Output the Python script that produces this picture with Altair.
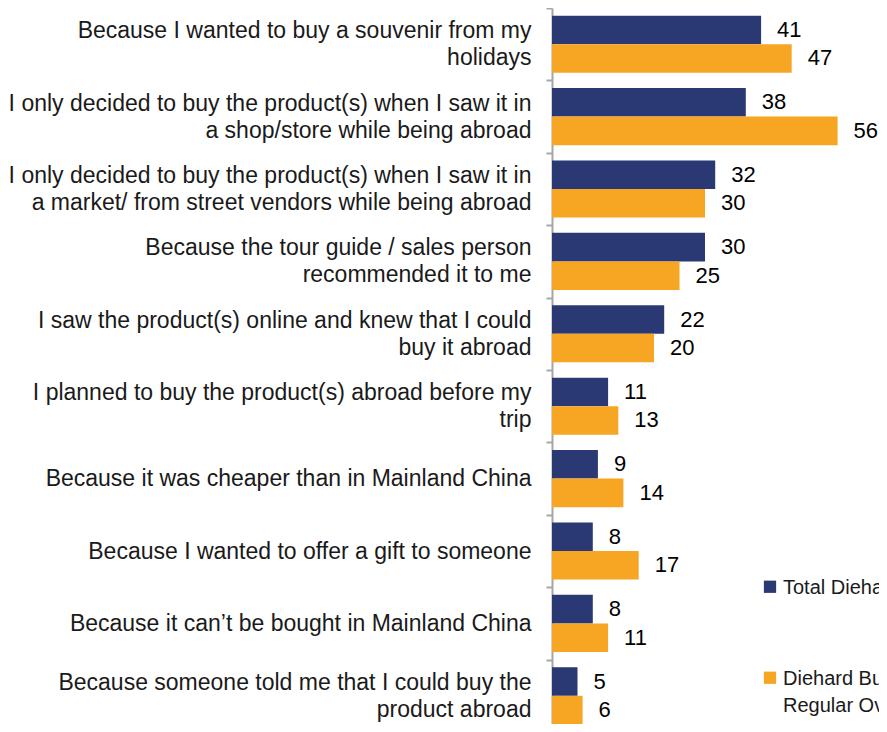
import altair as alt
import pandas as pd

categories = [
    "Because I wanted to buy a souvenir from my|holidays",
    "I only decided to buy the product(s) when I saw it in|a shop/store while being abroad",
    "I only decided to buy the product(s) when I saw it in|a market/ from street vendors while being abroad",
    "Because the tour guide / sales person|recommended it to me",
    "I saw the product(s) online and knew that I could|buy it abroad",
    "I planned to buy the product(s) abroad before my|trip",
    "Because it was cheaper than in Mainland China",
    "Because I wanted to offer a gift to someone",
    "Because it can\u2019t be bought in Mainland China",
    "Because someone told me that I could buy the|product abroad",
]
series = ["Total Diehard Buyers", "Diehard Buyers \u2013|Regular Overseas Travellers"]
total = [41, 38, 32, 30, 22, 11, 9, 8, 8, 5]
regular = [47, 56, 30, 25, 20, 13, 14, 17, 11, 6]
colors = ["#2a3873", "#f6a623"]

rows = []
for c, t, r in zip(categories, total, regular):
    rows.append({"reason": c, "series": series[0], "value": t})
    rows.append({"reason": c, "series": series[1], "value": r})
df = pd.DataFrame(rows)

FONT = "Liberation Sans"

# half-line spacing so every label block is centred on its band:
# two-line labels become [l1, zwsp, l2], one-line labels [zwsp, l]
ZW = "\u200b"
label_expr = (
    "indexof(datum.label, '|') >= 0 ? "
    f"[split(datum.label, '|')[0], '{ZW}', split(datum.label, '|')[1]] : ['{ZW}', datum.label]"
)

y = alt.Y(
    "reason:N",
    sort=categories,
    scale=alt.Scale(range=[0, 724], paddingInner=0, paddingOuter=0),
    axis=alt.Axis(
        title=None,
        labelExpr=label_expr,
        labelFont=FONT,
        labelFontSize=23,
        labelLineHeight=13.5,
        labelOffset=-13.5,
        labelColor="#1a1a1a",
        labelPadding=15,
        labelLimit=700,
        labelAlign="right",
        tickBand="extent",
        tickSize=6,
        tickWidth=2,
        tickColor="#a6a6a6",
        domainColor="#a6a6a6",
        domainWidth=2,
        grid=False,
    ),
)
yoff = alt.YOffset("series:N", sort=series,
                   scale=alt.Scale(domain=series, paddingInner=0, paddingOuter=0.267))
x = alt.X("value:Q", scale=alt.Scale(domain=[0, 60]), axis=None)
color = alt.Color(
    "series:N",
    sort=series,
    scale=alt.Scale(domain=series, range=colors),
    legend=alt.Legend(
        title=None,
        orient="none",
        legendX=208,
        legendY=560,
        labelExpr="split(datum.label, '|')",
        labelFont=FONT,
        labelFontSize=20,
        labelColor="#1a1a1a",
        labelBaseline="top",
        labelOffset=3,
        labelLimit=1000,
        symbolType="M-1,0.43H1V2.43H-1Z",
        symbolSize=150,
        symbolStrokeWidth=0,
        rowPadding=61,
        padding=0,
    ),
)

bars = alt.Chart(df).mark_bar().encode(y=y, yOffset=yoff, x=x, color=color)
labels = alt.Chart(df).mark_text(
    align="left", baseline="middle", dx=16, fontSize=22, font=FONT, color="#000000"
).encode(y=y, yOffset=yoff, x=x, text="value:Q")

chart = (
    alt.layer(bars, labels)
    .properties(
        width=306,
        height=716,
        padding={"left": 544, "top": 0, "right": 21, "bottom": 0},
        autosize=alt.AutoSizeParams(type="none"),
    )
    .configure(style={"guide-label": {"lineHeight": 27}})
    .configure_view(stroke=None)
)

chart.save("out.html", embed_options={"renderer": "svg", "actions": False})
